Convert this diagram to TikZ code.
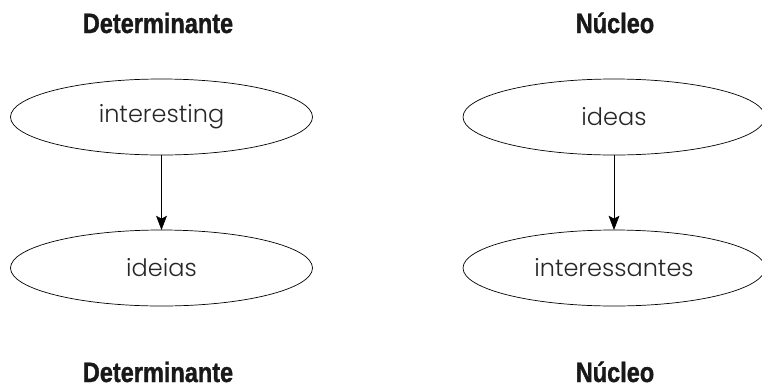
\documentclass[tikz,border=0pt]{standalone}
\usepackage{fontspec}
\setmainfont{Poppins}[UprightFont=* Light]
\newfontfamily\headfont[FakeStretch=0.84, FakeBold=1.2]{Liberation Sans Bold}
\usetikzlibrary{arrows.meta,positioning,shapes.geometric}

\begin{document}
\begin{tikzpicture}[
  x=1pt, y=-1pt,
  node distance=75pt and 0pt,
  head/.style={font=\headfont\fontsize{28}{30}\selectfont, text=black!90, inner sep=0pt, anchor=base},
  word/.style={draw, ellipse, line width=0.7pt, minimum width=302pt, minimum height=76pt, inner sep=0pt, outer sep=0pt, font=\fontsize{24}{26}\selectfont, text=black!85},
  arrow/.style={-{Stealth[length=5mm, width=3.8mm, inset=1mm]}, line width=0.6pt}
]
\useasboundingbox (0,0) rectangle (762,389);

\node[head] (detTop) at (158,33) {Determinante};
\node[head] (nucTop) at (615,33) {Núcleo};

\node[word] (interesting) at (161.5,117) {interesting};
\node[word, below=of interesting] (ideias) {ideias};
\node[word] (ideas) at (614,117) {ideas};
\node[word, below=of ideas] (interessantes) {interessantes};

\node[head] (detBot) at (158,382) {Determinante};
\node[head] (nucBot) at (615,382) {Núcleo};

\draw[arrow] (interesting) -- (ideias);
\draw[arrow] (ideas) -- (interessantes);
\end{tikzpicture}
\end{document}
